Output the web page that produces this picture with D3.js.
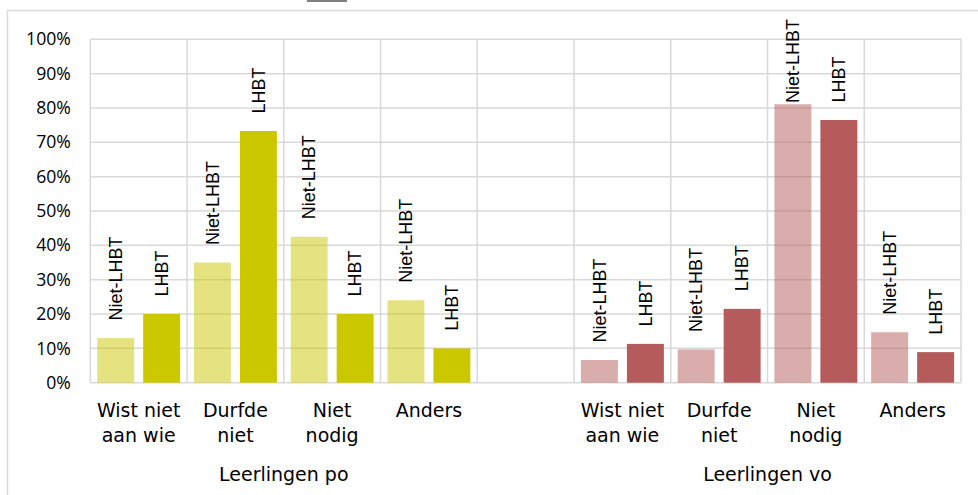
<!DOCTYPE html>
<html>
<head>
<meta charset="utf-8">
<script src="https://cdn.jsdelivr.net/npm/d3@7"></script>
<style>
  html, body { margin: 0; padding: 0; background: #fff; overflow: hidden; }
  svg { display: block; }
</style>
</head>
<body>
<svg id="chart" width="978" height="495"></svg>
<script>
// ---- Data ----
const groups = ["Leerlingen po", "Leerlingen vo"];
const categories = ["Wist niet aan wie", "Durfde niet", "Niet nodig", "Anders"];
const categoryLines = [["Wist niet", "aan wie"], ["Durfde", "niet"], ["Niet", "nodig"], ["Anders"]];
const seriesNames = ["Niet-LHBT", "LHBT"];
// values in %
const poNietLHBT = [13, 35, 42.5, 24];
const poLHBT     = [20, 73.3, 20, 10];
const voNietLHBT = [6.6, 9.7, 81.1, 14.7];
const voLHBT     = [11.3, 21.5, 76.5, 8.9];
const yTicks = [0, 10, 20, 30, 40, 50, 60, 70, 80, 90, 100];

const groupColors = { "Leerlingen po": "#cbc800", "Leerlingen vo": "#b55b5b" };
const seriesOpacity = { "Niet-LHBT": 0.5, "LHBT": 1 };

// Build slots: 4 po categories, one empty slot, 4 vo categories
const slots = [];
categories.forEach((c, i) => slots.push({ key: "po|" + c, group: groups[0], ci: i,
  values: { "Niet-LHBT": poNietLHBT[i], "LHBT": poLHBT[i] } }));
slots.push({ key: "gap", group: null });
categories.forEach((c, i) => slots.push({ key: "vo|" + c, group: groups[1], ci: i,
  values: { "Niet-LHBT": voNietLHBT[i], "LHBT": voLHBT[i] } }));

// ---- Layout ----
const svg = d3.select("#chart");
const plot = { left: 90.3, right: 961, top: 39.3, bottom: 382.7 };

const x = d3.scaleBand().domain(slots.map(d => d.key)).range([plot.left, plot.right]).padding(0);
const xs = d3.scaleBand().domain(seriesNames).range([0, x.bandwidth()]).paddingInner(0.196).paddingOuter(0.15);
const y = d3.scaleLinear().domain([0, 100]).range([plot.bottom, plot.top]);

const gridColor = "#d9d9d9";

// chart-area border (extends past right/bottom of the view)
svg.append("rect").attr("x", 7.5).attr("y", 10.5).attr("width", 1000).attr("height", 600)
  .attr("fill", "none").attr("stroke", gridColor).attr("stroke-width", 1.5);
// clipped title remnant at very top
svg.append("rect").attr("x", 307).attr("y", 0).attr("width", 40).attr("height", 2).attr("fill", "#7f7f7f");

// horizontal gridlines
svg.append("g").selectAll("line").data(yTicks).join("line")
  .attr("x1", plot.left).attr("x2", plot.right)
  .attr("y1", d => y(d)).attr("y2", d => y(d))
  .attr("stroke", gridColor).attr("stroke-width", 1.5);

// vertical gridlines at slot boundaries
const bounds = slots.map(d => x(d.key)).concat([plot.right]);
svg.append("g").selectAll("line").data(bounds).join("line")
  .attr("x1", d => d).attr("x2", d => d)
  .attr("y1", plot.top).attr("y2", plot.bottom)
  .attr("stroke", gridColor).attr("stroke-width", 1.5);

// y axis labels
const yAxis = d3.axisLeft(y).tickValues(yTicks).tickFormat(d => d + "%").tickSize(0).tickPadding(19.5);
const gy = svg.append("g").attr("transform", `translate(${plot.left},0)`).call(yAxis);
gy.select(".domain").remove();
gy.selectAll("text").attr("font-family", "'Open Sans', sans-serif").attr("font-size", "17.6px").attr("fill", "#000");

// bars
const dataSlots = slots.filter(d => d.group);
const barData = [];
dataSlots.forEach(s => seriesNames.forEach(sn => barData.push({ slot: s, series: sn, value: s.values[sn] })));

svg.append("g").selectAll("rect").data(barData).join("rect")
  .attr("x", d => x(d.slot.key) + xs(d.series))
  .attr("width", xs.bandwidth())
  .attr("y", d => y(d.value))
  .attr("height", d => y(0) - y(d.value))
  .attr("fill", d => groupColors[d.slot.group])
  .attr("fill-opacity", d => seriesOpacity[d.series]);

// rotated series-name labels
const labelGap = 17.5;
const minTop = 19;
svg.append("g").selectAll("text").data(barData).join("text")
  .attr("font-family", "'Liberation Sans', Arial, sans-serif")
  .attr("font-size", "18px")
  .attr("fill", "#000")
  .attr("dy", "0.35em")
  .text(d => d.series)
  .each(function(d) {
    const len = this.getComputedTextLength();
    let start = y(d.value) - labelGap;
    if (start - len < minTop) start = minTop + len;
    const cx = x(d.slot.key) + xs(d.series) + xs.bandwidth() / 2;
    d3.select(this).attr("transform", `translate(${cx},${start}) rotate(-90)`);
  });

// category labels
const catG = svg.append("g").attr("font-family", "'DejaVu Sans', sans-serif").attr("font-size", "19px").attr("fill", "#000");
dataSlots.forEach(s => {
  const t = catG.append("text").attr("text-anchor", "middle")
    .attr("x", x(s.key) + x.bandwidth() / 2).attr("y", 416.7);
  categoryLines[s.ci].forEach((line, i) => {
    t.append("tspan").attr("x", x(s.key) + x.bandwidth() / 2).attr("dy", i === 0 ? 0 : 25.5).text(line);
  });
});

// group labels
groups.forEach(g => {
  const gs = dataSlots.filter(s => s.group === g);
  const x0 = x(gs[0].key), x1 = x(gs[gs.length - 1].key) + x.bandwidth();
  catG.append("text").attr("text-anchor", "middle").attr("x", (x0 + x1) / 2).attr("y", 481).text(g);
});
</script>
</body>
</html>
